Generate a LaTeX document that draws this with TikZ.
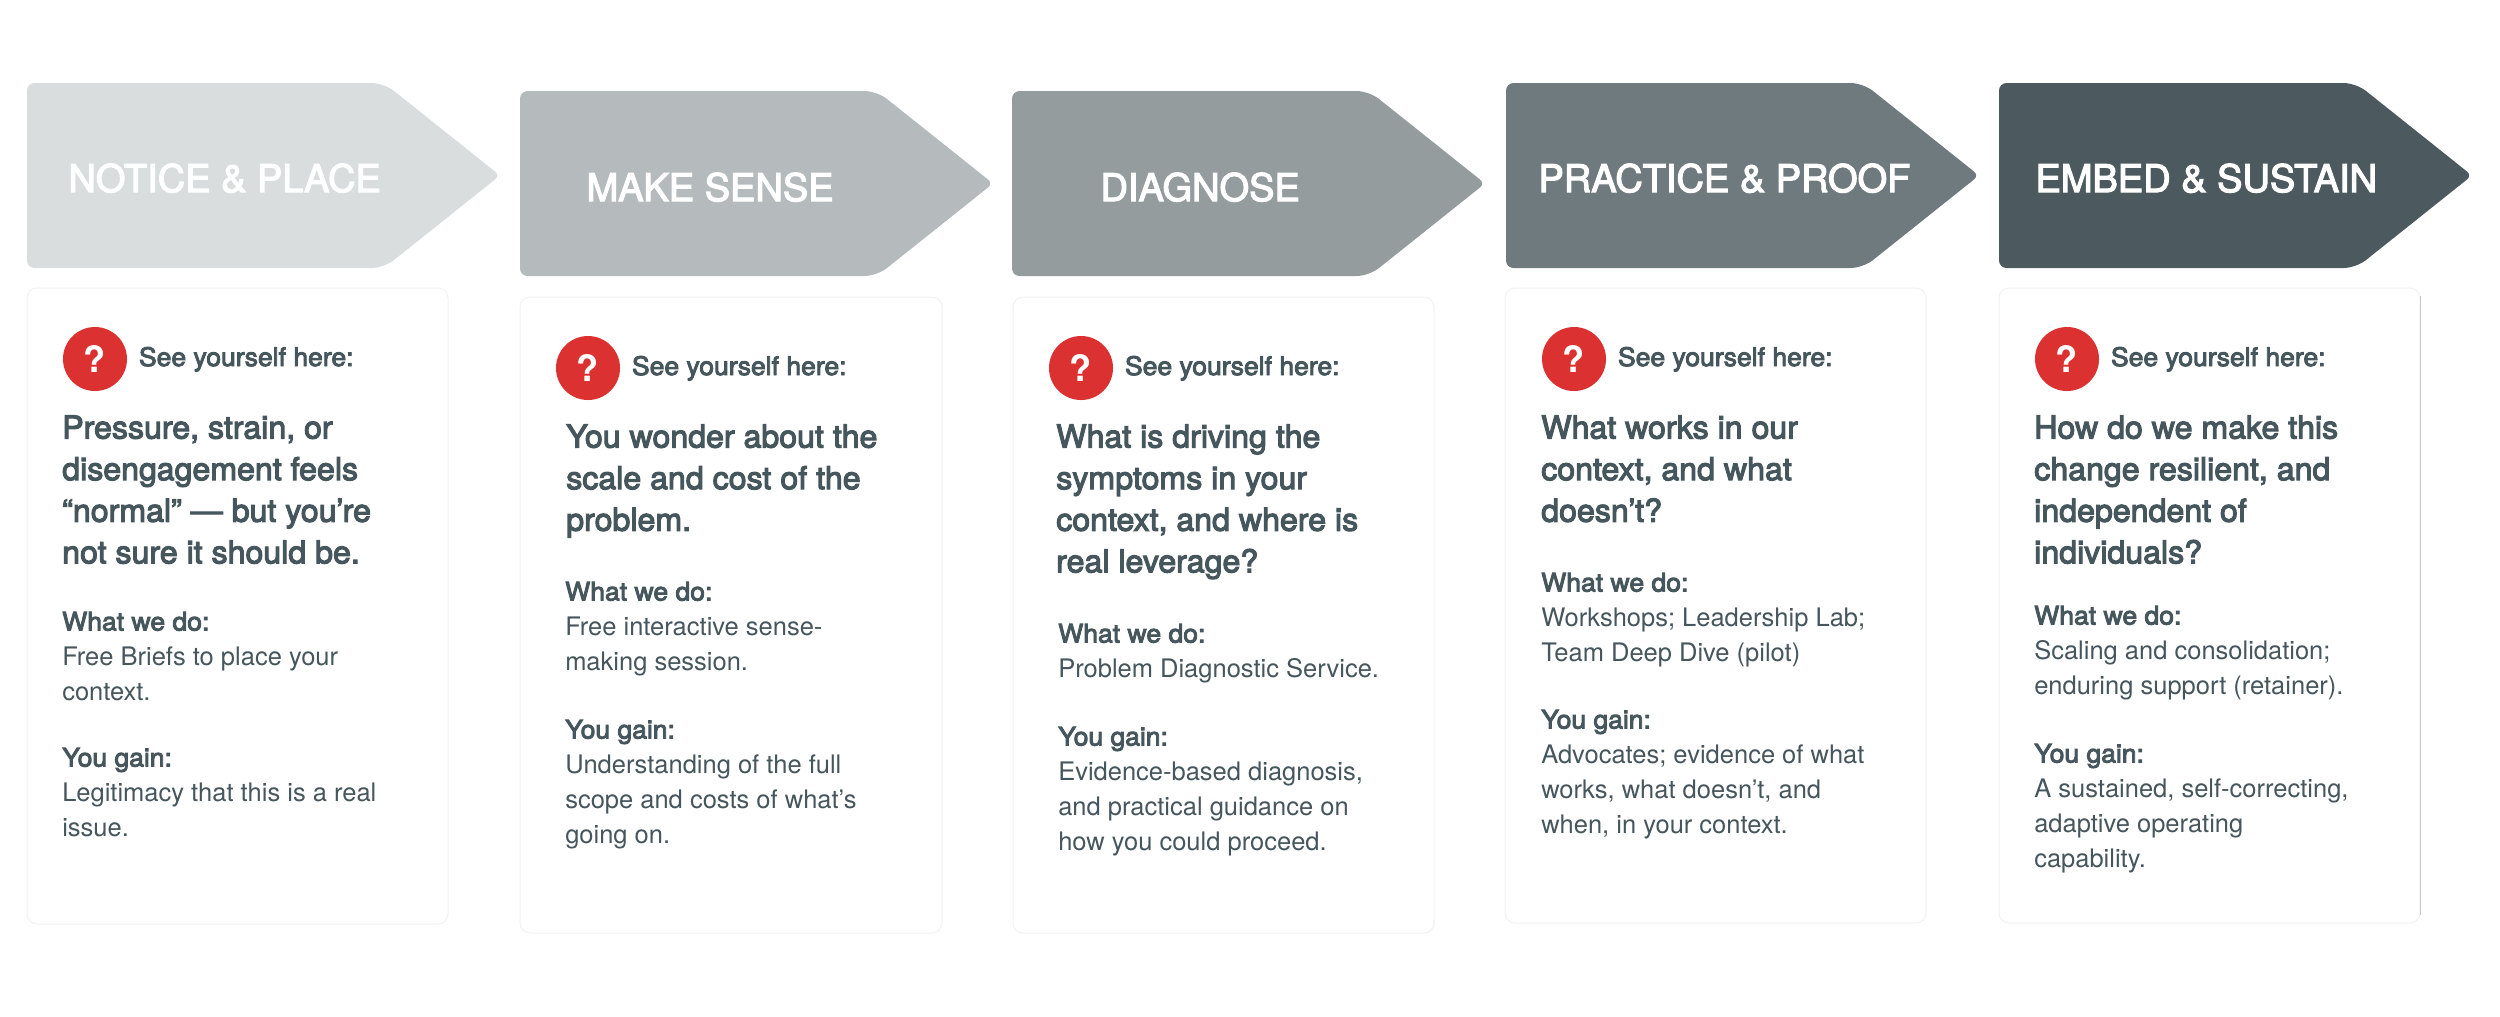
\documentclass[tikz,border=0pt]{standalone}
\usepackage{fontspec}
\setmainfont{TeX Gyre Heros}
\newfontfamily\fbody{TeX Gyre Heros}
\newfontfamily\fsemi[FakeBold=3.5,FakeStretch=1.04]{TeX Gyre Heros}
\newfontfamily\fhead[FakeBold=3.5,FakeStretch=1.02]{TeX Gyre Heros}
\newfontfamily\flabel[FakeBold=3]{TeX Gyre Heros}
\definecolor{ink}{HTML}{46565D}
\definecolor{alarm}{HTML}{DC3131}
\definecolor{edge}{HTML}{F1F2F3}
\definecolor{aone}{HTML}{DADDDE}
\definecolor{atwo}{HTML}{B5BBBC}
\definecolor{athree}{HTML}{949C9D}
\definecolor{afour}{HTML}{6F7A7E}
\definecolor{afive}{HTML}{4C5A5F}
\tikzset{
  stagelabel/.style={anchor=base west,inner sep=0pt,text=white,font=\flabel\fontsize{15.2}{18}\selectfont},
  cardbox/.style={draw=edge,line width=0.4pt,fill=white,rounded corners=4pt},
  qmark/.style={circle,fill=alarm,text=white,minimum size=25.6pt,inner sep=0pt,font=\bfseries\fontsize{14.5}{15}\selectfont},
  seehere/.style={anchor=base west,inner sep=0pt,text=ink,font=\fsemi\fontsize{10.2}{14}\selectfont},
  headblock/.style={anchor=north west,inner sep=0pt,align=left,text=ink,yshift=10pt,xshift=-0.5pt,font=\fhead\fontsize{12.6}{16.64}\selectfont},
  bodyblock/.style={anchor=north west,inner sep=0pt,align=left,text=ink,yshift=10pt,xshift=-0.5pt,font=\fbody\fontsize{10.2}{14}\selectfont},
}
\newcommand\firstline{\rule{0pt}{10pt}}
\newcommand\lead[1]{{\fsemi #1}}
\newcommand\stagearrow[3]{%
  \begin{scope}[shift={(#1,#2)}]
    \fill[#3] (0,90) [rounded corners=3pt] -- (0,0) [rounded corners=5pt] -- (357,0) [rounded corners=2.5pt] -- (473,92.5) [rounded corners=5pt] -- (357,185) [rounded corners=3pt] -- (0,185) -- cycle;
  \end{scope}}
\begin{document}
\begin{tikzpicture}[x=0.4pt,y=-0.4pt]
\useasboundingbox (0,0) rectangle (2500,1016);
% arrows
\stagearrow{27}{83}{aone}
\stagearrow{520}{91}{atwo}
\stagearrow{1012}{91}{athree}
\stagearrow{1506}{83}{afour}
\stagearrow{1999}{83}{afive}
\node[stagelabel,text=white!96!aone] (lab1) at (68,192) {NOTICE \& PLACE};
\node[stagelabel] (lab2) at (586,201) {MAKE SENSE};
\node[stagelabel] (lab3) at (1100,201) {DIAGNOSE};
\node[stagelabel] (lab4) at (1538,192) {PRACTICE \& PROOF};
\node[stagelabel] (lab5) at (2035,192) {EMBED \& SUSTAIN};
% cards
\draw[cardbox] (27,288) rectangle (448,924);
\draw[cardbox] (520,297) rectangle (942,933);
\draw[cardbox] (1013,297) rectangle (1434,933);
\draw[cardbox] (1505,288) rectangle (1926,923);
\draw[cardbox] (1999,288) rectangle (2420,923);
\draw[line width=0.4pt,draw=black!22] (2420,296) -- (2420,915);
% column 1
\node[qmark] (q1) at (95,359) {?};
\node[seehere] (see1) at (138.5,366) {See yourself here:};
\node[headblock] (head1) at (63,438) {\firstline Pressure, strain, or\\disengagement feels\\“normal” — but you’re\\not sure it should be.};
\node[bodyblock] (do1) at (63,630) {\firstline\lead{What we do:}\\Free Briefs to place your\\context.};
\node[bodyblock] (gain1) at (63,766) {\firstline\lead{You gain:}\\Legitimacy that this is a real\\issue.};
% column 2
\node[qmark] (q2) at (588,368) {?};
\node[seehere] (see2) at (631.5,375) {See yourself here:};
\node[headblock] (head2) at (567,447) {\firstline You wonder about the\\scale and cost of the\\problem.};
\node[bodyblock] (do2) at (566,600) {\firstline\lead{What we do:}\\Free interactive sense-\\making session.};
\node[bodyblock] (gain2) at (566,738) {\firstline\lead{You gain:}\\Understanding of the full\\scope and costs of what’s\\going on.};
% column 3
\node[qmark] (q3) at (1081,368) {?};
\node[seehere] (see3) at (1124.5,375) {See yourself here:};
\node[headblock] (head3) at (1057,447) {\firstline What is driving the\\symptoms in your\\context, and where is\\real leverage?};
\node[bodyblock] (do3) at (1059,642) {\firstline\lead{What we do:}\\Problem Diagnostic Service.};
\node[bodyblock] (gain3) at (1059,745) {\firstline\lead{You gain:}\\Evidence-based diagnosis,\\and practical guidance on\\how you could proceed.};
% column 4
\node[qmark] (q4) at (1574,359) {?};
\node[seehere] (see4) at (1617.5,366) {See yourself here:};
\node[headblock] (head4) at (1542,438) {\firstline What works in our\\context, and what\\doesn’t?};
\node[bodyblock] (do4) at (1542,591) {\firstline\lead{What we do:}\\Workshops; Leadership Lab;\\Team Deep Dive (pilot)};
\node[bodyblock] (gain4) at (1542,728) {\firstline\lead{You gain:}\\Advocates; evidence of what\\works, what doesn’t, and\\when, in your context.};
% column 5
\node[qmark] (q5) at (2067,359) {?};
\node[seehere] (see5) at (2110.5,366) {See yourself here:};
\node[headblock] (head5) at (2035,438) {\firstline How do we make this\\change resilient, and\\independent of\\individuals?};
\node[bodyblock] (do5) at (2035,624) {\firstline\lead{What we do:}\\Scaling and consolidation;\\enduring support (retainer).};
\node[bodyblock] (gain5) at (2035,762) {\firstline\lead{You gain:}\\A sustained, self-correcting,\\adaptive operating\\capability.};
\end{tikzpicture}
\end{document}
